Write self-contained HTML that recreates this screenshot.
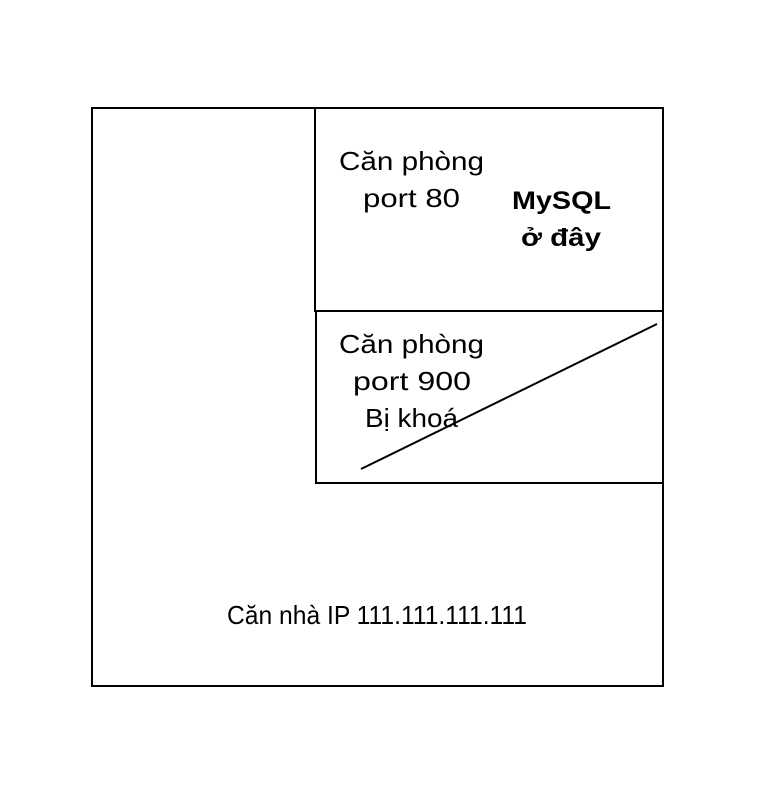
<!DOCTYPE html>
<html><head><meta charset="utf-8"><style>
html,body{margin:0;padding:0;background:#fff;}
svg{display:block;}
text{font-family:"Liberation Sans","DejaVu Sans",sans-serif;fill:#000;}
</style></head><body>
<svg width="768" height="794" viewBox="0 0 768 794" xmlns="http://www.w3.org/2000/svg">
<rect x="92" y="108" width="571" height="578" fill="none" stroke="#000" stroke-width="2"/>
<rect x="315" y="108" width="348" height="203" fill="none" stroke="#000" stroke-width="2"/>
<rect x="316" y="311" width="347" height="172" fill="none" stroke="#000" stroke-width="2"/>
<line x1="361" y1="469" x2="657" y2="324" stroke="#000" stroke-width="2"/>
<g font-size="26">
<text x="339" y="170" textLength="145" lengthAdjust="spacingAndGlyphs">Căn phòng</text>
<text x="363" y="207" textLength="97" lengthAdjust="spacingAndGlyphs">port 80</text>
<text x="339" y="353" textLength="145" lengthAdjust="spacingAndGlyphs">Căn phòng</text>
<text x="353" y="390" textLength="118" lengthAdjust="spacingAndGlyphs">port 900</text>
<text x="365" y="427" textLength="93" lengthAdjust="spacingAndGlyphs">Bị khoá</text>
<text x="227" y="624" textLength="300" lengthAdjust="spacingAndGlyphs">Căn nhà IP 111.111.111.111</text>
</g>
<g font-size="25" font-weight="bold">
<text x="512" y="209" textLength="99" lengthAdjust="spacingAndGlyphs">MySQL</text>
<text x="521" y="246" textLength="80" lengthAdjust="spacingAndGlyphs">ở đây</text>
</g>
</svg>
</body></html>
